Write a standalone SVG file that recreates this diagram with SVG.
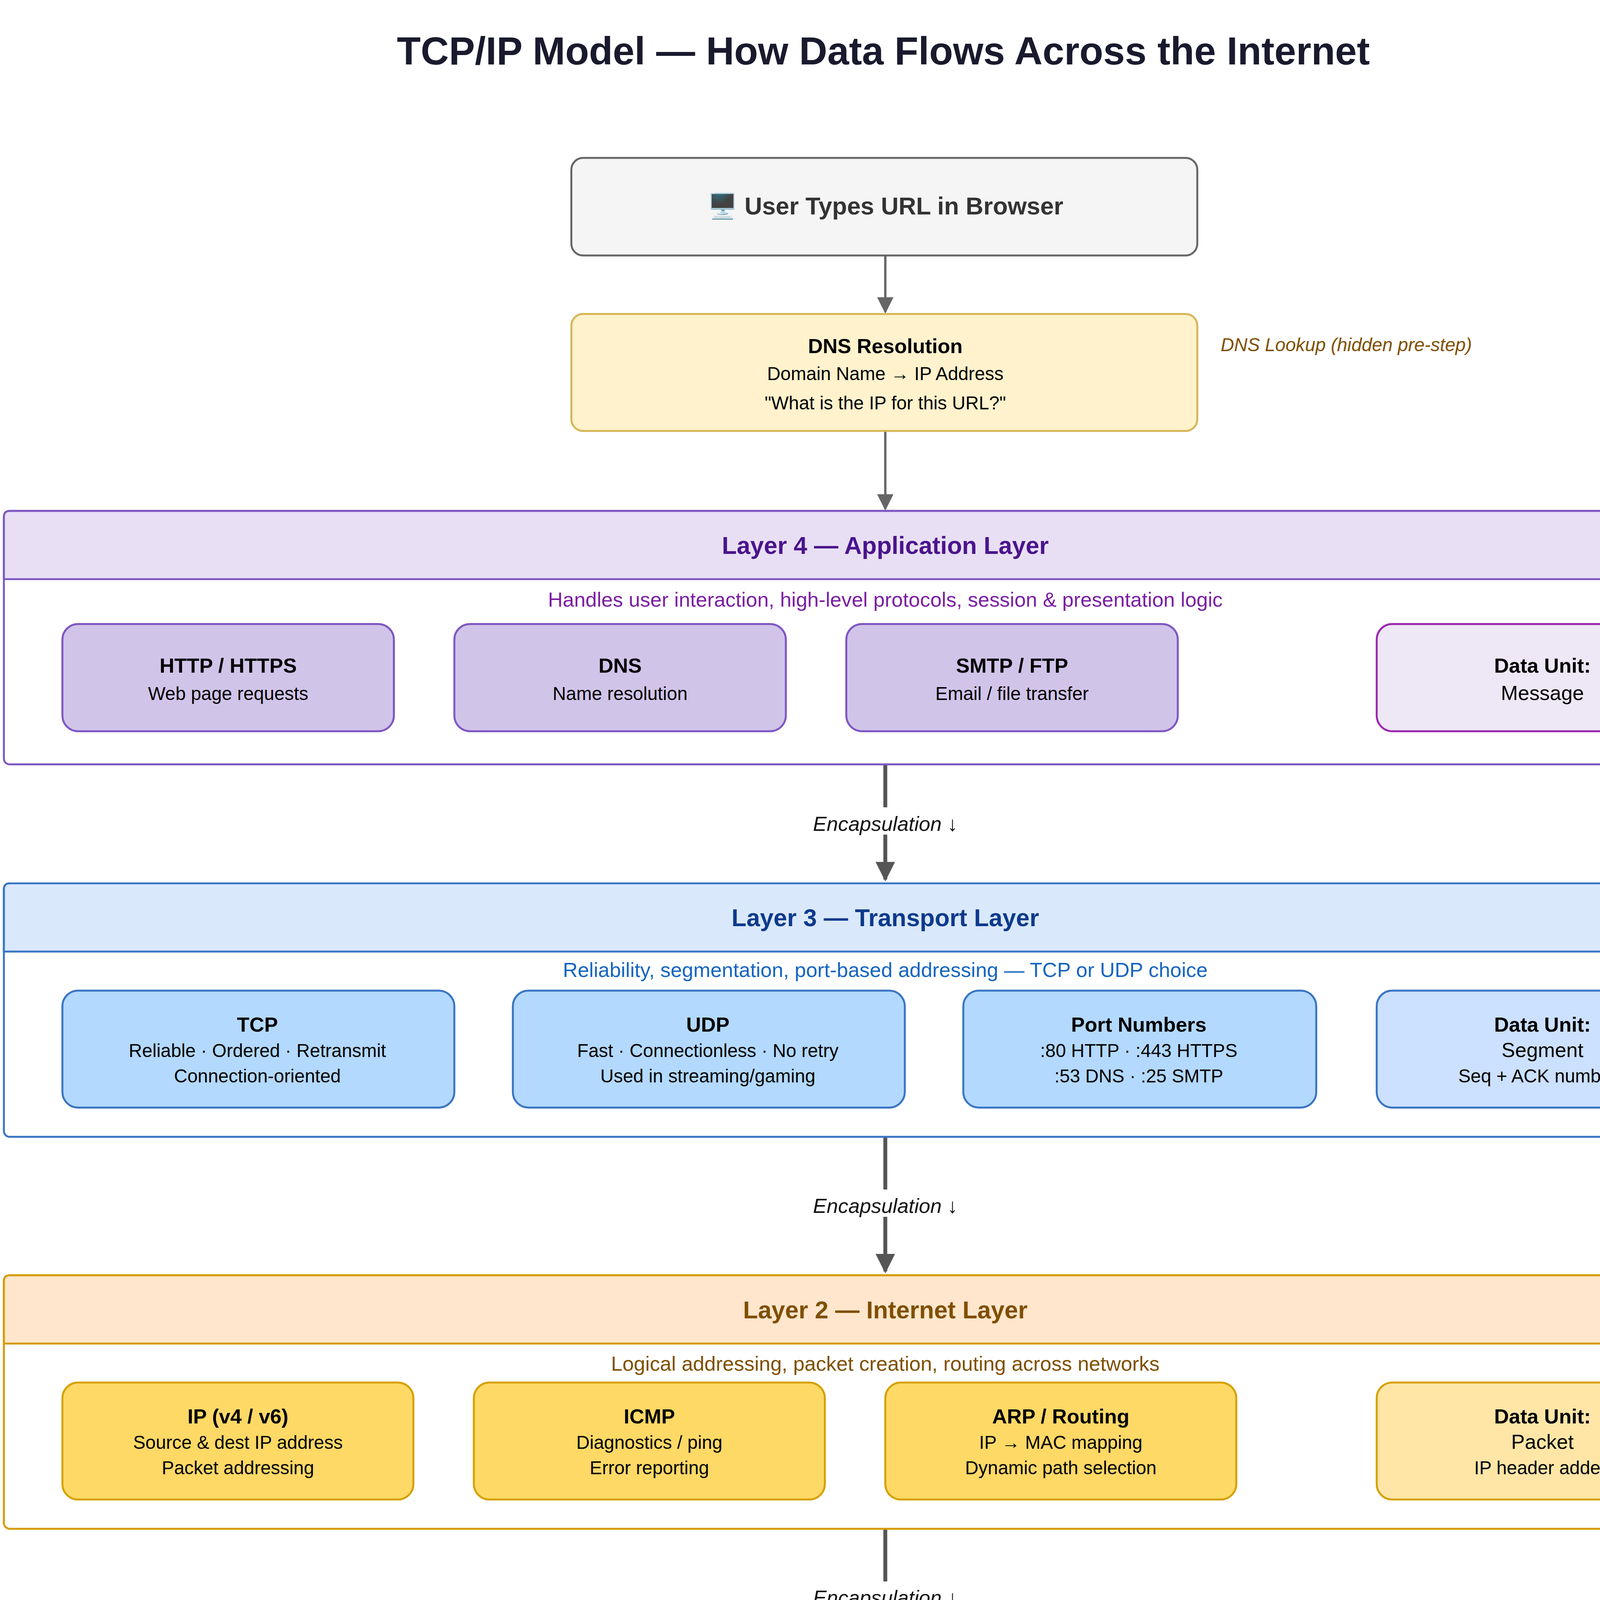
<svg xmlns="http://www.w3.org/2000/svg" width="6355" height="7800" viewBox="0 0 6355 7800">
<style>
text{font-family:"Liberation Sans",Arial,sans-serif;text-anchor:middle}
.b{font-weight:bold}
.t13{font-size:12.5px}
.t11{font-size:10.5px}
.t10{font-size:9.5px}
.it{font-style:italic}
.ln{fill:none;stroke:#555;stroke-width:2}
.lt{fill:none;stroke:#666;stroke-width:1.2}
.lb{fill:none;stroke:#3a75c4;stroke-width:1.3}
.lbl{font-size:10.5px;font-style:italic;fill:#111}
.tl{text-anchor:start;font-size:11px}
</style>
<defs>
<marker id="ah" viewBox="0 0 10 10" refX="9" refY="5" markerWidth="5" markerHeight="5" orient="auto"><path d="M0,0L10,5L0,10z" fill="#555"/></marker>
<marker id="ahs" viewBox="0 0 10 10" refX="9" refY="5" markerWidth="7" markerHeight="7" orient="auto"><path d="M0,0L10,5L0,10z" fill="#666"/></marker>
<marker id="ahb" viewBox="0 0 10 10" refX="9" refY="5" markerWidth="6" markerHeight="6" orient="auto"><path d="M0,0L10,5L0,10z" fill="#3a75c4"/></marker>
<marker id="ahd" viewBox="0 0 10 10" refX="9" refY="5" markerWidth="7" markerHeight="7" orient="auto"><path d="M0,0L10,5L0,10L3,5z" fill="#6c8ebf"/></marker>
</defs>
<rect width="6355" height="7800" fill="#fff"/>
<g transform="scale(4.992)">
<text x="453" y="33" class="b" style="font-size:20px" fill="#1a1a2e">TCP/IP Model — How Data Flows Across the Internet</text>

<g id="connectors">
<path class="lt" d="M454,131V160" marker-end="url(#ahs)"/>
<path class="lt" d="M454,221V261" marker-end="url(#ahs)"/>
<path class="ln" d="M454,392V451" marker-end="url(#ah)"/>
<path class="ln" d="M454,583V652" marker-end="url(#ah)"/>
<path class="ln" d="M454,784V853" marker-end="url(#ah)"/>
<path class="ln" d="M454,985V1049" marker-end="url(#ah)"/>
<path class="ln" d="M454,1121V1175" marker-end="url(#ah)"/>
<path class="ln" d="M454,1226V1285" marker-end="url(#ah)"/>
<path class="ln" d="M454,1397V1456" marker-end="url(#ah)"/>
<path d="M906,518H914Q920,518 920,512V469Q920,463 926,463H935" fill="none" stroke="#6c8ebf" stroke-width="1.2" stroke-dasharray="3,3" marker-end="url(#ahd)"/>
<path class="lb" d="M197,1357H227" marker-end="url(#ahb)"/>
<path class="lb" d="M403,1357H433" marker-end="url(#ahb)"/>
<path class="lb" d="M609,1357H639" marker-end="url(#ahb)"/>
<rect x="412" y="414" width="84" height="14" fill="#fff"/><text x="454" y="426" class="lbl">Encapsulation ↓</text>
<rect x="412" y="610" width="84" height="14" fill="#fff"/><text x="454" y="622" class="lbl">Encapsulation ↓</text>
<rect x="412" y="811" width="84" height="14" fill="#fff"/><text x="454" y="823" class="lbl">Encapsulation ↓</text>
<rect x="400" y="1010" width="108" height="14" fill="#fff"/><text x="454" y="1022" class="lbl">Signals transmitted ↓</text>
</g>

<g id="user"><rect x="293" y="81" width="321" height="50" rx="6" fill="#f5f5f5" stroke="#666"/><text x="454" y="110" class="b t13" fill="#333">🖥️ User Types URL in Browser</text></g>

<g id="dns"><rect x="293" y="161" width="321" height="60" rx="6" fill="#fff2cc" stroke="#d6b656"/>
<text x="454" y="181" class="b t11">DNS Resolution</text><text x="454" y="195" class="t10">Domain Name → IP Address</text><text x="454" y="210" class="t10">"What is the IP for this URL?"</text>
<text x="626" y="180" class="it t10" style="text-anchor:start" fill="#7f5000">DNS Lookup (hidden pre-step)</text></g>

<g id="layer4">
<rect x="2" y="262" width="904" height="130" rx="3" fill="#fff" stroke="#7e57c2"/>
<path d="M2,297V265Q2,262 5,262H903Q906,262 906,265V297Z" fill="#e8dff5" stroke="#7e57c2"/>
<text x="454" y="284" class="b t13" fill="#4a148c">Layer 4 — Application Layer</text>
<text x="454" y="311" class="t11" fill="#7b1fa2">Handles user interaction, high-level protocols, session &amp; presentation logic</text>
<rect x="32" y="320" width="170" height="55" rx="8" fill="#d1c4e9" stroke="#7e57c2"/><text x="117" y="345" class="b t11">HTTP / HTTPS</text><text x="117" y="359" class="t10">Web page requests</text>
<rect x="233" y="320" width="170" height="55" rx="8" fill="#d1c4e9" stroke="#7e57c2"/><text x="318" y="345" class="b t11">DNS</text><text x="318" y="359" class="t10">Name resolution</text>
<rect x="434" y="320" width="170" height="55" rx="8" fill="#d1c4e9" stroke="#7e57c2"/><text x="519" y="345" class="b t11">SMTP / FTP</text><text x="519" y="359" class="t10">Email / file transfer</text>
<rect x="706" y="320" width="170" height="55" rx="8" fill="#ede7f6" stroke="#9c27b0"/><text x="791" y="345" class="b t11">Data Unit:</text><text x="791" y="359" class="t11">Message</text>
</g>

<g id="layer3">
<rect x="2" y="453" width="904" height="130" rx="3" fill="#fff" stroke="#3a75c4"/>
<path d="M2,488V456Q2,453 5,453H903Q906,453 906,456V488Z" fill="#dae8fc" stroke="#3a75c4"/>
<text x="454" y="475" class="b t13" fill="#0d3a8c">Layer 3 — Transport Layer</text>
<text x="454" y="501" class="t11" fill="#1565c0">Reliability, segmentation, port-based addressing — TCP or UDP choice</text>
<rect x="32" y="508" width="201" height="60" rx="8" fill="#b3d9ff" stroke="#3a75c4"/><text x="132" y="529" class="b t11">TCP</text><text x="132" y="542" class="t10">Reliable · Ordered · Retransmit</text><text x="132" y="555" class="t10">Connection-oriented</text>
<rect x="263" y="508" width="201" height="60" rx="8" fill="#b3d9ff" stroke="#3a75c4"/><text x="363" y="529" class="b t11">UDP</text><text x="363" y="542" class="t10">Fast · Connectionless · No retry</text><text x="363" y="555" class="t10">Used in streaming/gaming</text>
<rect x="494" y="508" width="181" height="60" rx="8" fill="#b3d9ff" stroke="#3a75c4"/><text x="584" y="529" class="b t11">Port Numbers</text><text x="584" y="542" class="t10">:80 HTTP · :443 HTTPS</text><text x="584" y="555" class="t10">:53 DNS · :25 SMTP</text>
<rect x="706" y="508" width="170" height="60" rx="8" fill="#cce0ff" stroke="#3a75c4"/><text x="791" y="529" class="b t11">Data Unit:</text><text x="791" y="542" class="t11">Segment</text><text x="791" y="555" class="t10">Seq + ACK numbers</text>
</g>

<g id="handshake"><rect x="936" y="433" width="332" height="60" rx="5" fill="#dae8fc" stroke="#6c8ebf"/>
<text x="1102" y="459" class="t11"><tspan class="b">TCP 3-Way Handshake</tspan> (before data transfer)</text>
<text x="1102" y="473" class="t10">① Client SYN → ② Server SYN-ACK → ③ Client ACK</text></g>

<g id="layer2">
<rect x="2" y="654" width="904" height="130" rx="3" fill="#fff" stroke="#d79b00"/>
<path d="M2,689V657Q2,654 5,654H903Q906,654 906,657V689Z" fill="#ffe6cc" stroke="#d79b00"/>
<text x="454" y="676" class="b t13" fill="#7f4f00">Layer 2 — Internet Layer</text>
<text x="454" y="703" class="t11" fill="#7f5000">Logical addressing, packet creation, routing across networks</text>
<rect x="32" y="709" width="180" height="60" rx="8" fill="#ffd966" stroke="#d6a000"/><text x="122" y="730" class="b t11">IP (v4 / v6)</text><text x="122" y="743" class="t10">Source &amp; dest IP address</text><text x="122" y="756" class="t10">Packet addressing</text>
<rect x="243" y="709" width="180" height="60" rx="8" fill="#ffd966" stroke="#d6a000"/><text x="333" y="730" class="b t11">ICMP</text><text x="333" y="743" class="t10">Diagnostics / ping</text><text x="333" y="756" class="t10">Error reporting</text>
<rect x="454" y="709" width="180" height="60" rx="8" fill="#ffd966" stroke="#d6a000"/><text x="544" y="730" class="b t11">ARP / Routing</text><text x="544" y="743" class="t10">IP → MAC mapping</text><text x="544" y="756" class="t10">Dynamic path selection</text>
<rect x="706" y="709" width="170" height="60" rx="8" fill="#ffe6a6" stroke="#d6a000"/><text x="791" y="730" class="b t11">Data Unit:</text><text x="791" y="743" class="t11">Packet</text><text x="791" y="756" class="t10">IP header added</text>
</g>

<g id="layer1">
<rect x="2" y="855" width="904" height="130" rx="3" fill="#fff" stroke="#4a8a3a"/>
<path d="M2,889V858Q2,855 5,855H903Q906,855 906,858V889Z" fill="#d5e8d4" stroke="#4a8a3a"/>
<text x="454" y="877" class="b t13" fill="#1b4d1b">Layer 1 — Network Access Layer</text>
<text x="454" y="904" class="t11" fill="#2e7d32">Physical transmission, MAC addressing, framing — hardware level</text>
<rect x="32" y="910" width="170" height="55" rx="8" fill="#a5d6a0" stroke="#4a8a3a"/><text x="117" y="935" class="b t11">Ethernet</text><text x="117" y="949" class="t10">Wired · Electrical signals</text>
<rect x="233" y="910" width="170" height="55" rx="8" fill="#a5d6a0" stroke="#4a8a3a"/><text x="318" y="935" class="b t11">Wi-Fi / 802.11</text><text x="318" y="949" class="t10">Wireless · Radio waves</text>
<rect x="434" y="910" width="170" height="55" rx="8" fill="#a5d6a0" stroke="#4a8a3a"/><text x="519" y="935" class="b t11">Fiber / DSL</text><text x="519" y="949" class="t10">Light signals · Long range</text>
<rect x="706" y="910" width="170" height="55" rx="8" fill="#c8e6c9" stroke="#4a8a3a"/><text x="791" y="929" class="b t11">Data Unit:</text><text x="791" y="942" class="t11">Frame</text><text x="791" y="955" class="t10">MAC header added</text>
</g>

<g id="journey"><rect x="2" y="1051" width="904" height="70" rx="5" fill="#f5f5f5" stroke="#888" stroke-width="1.5" stroke-dasharray="5,4"/>
<text x="454" y="1075" class="b t11">Internet Journey</text><text x="454" y="1090" class="t11">Packets travel independently through Routers → Switches → ISP infrastructure → Gateways</text><text x="454" y="1105" class="t11">Dynamic path selection · May cross multiple countries · Reassembled at destination</text></g>
<text x="1107" y="1052" class="it t10" fill="#555">↑ Response travels same path in reverse (decapsulation)</text>

<g id="server"><rect x="293" y="1177" width="321" height="49" rx="6" fill="#f5f5f5" stroke="#666"/><text x="454" y="1198" class="b t13" fill="#333">🖥️ Server receives request · processes · sends</text><text x="454" y="1214" class="b t13" fill="#333">response</text></g>

<g id="decap">
<rect x="2" y="1287" width="904" height="110" rx="3" fill="#fff" stroke="#3a75c4"/>
<path d="M2,1322V1290Q2,1287 5,1287H903Q906,1287 906,1290V1322Z" fill="#dae8fc" stroke="#3a75c4"/>
<text x="454" y="1309" class="b t13" fill="#0d3a8c">Decapsulation on arrival — reverse order</text>
<rect x="22" y="1332" width="175" height="50" rx="7" fill="#d5e8d4" stroke="#5a9a4a"/><text x="109" y="1354" class="t11">① Frame received</text><text x="109" y="1368" class="t10">Network Access Layer</text>
<rect x="228" y="1332" width="175" height="50" rx="7" fill="#ffe6cc" stroke="#d79b00"/><text x="315" y="1354" class="t11">② IP verified</text><text x="315" y="1368" class="t10">Internet Layer</text>
<rect x="434" y="1332" width="175" height="50" rx="7" fill="#dae8fc" stroke="#3a75c4"/><text x="521" y="1354" class="t11">③ Segments reordered</text><text x="521" y="1368" class="t10">Transport Layer</text>
<rect x="640" y="1332" width="175" height="50" rx="7" fill="#e8dff5" stroke="#8e6bbf"/><text x="727" y="1354" class="t11">④ Data interpreted</text><text x="727" y="1368" class="t10">Application Layer</text>
</g>

<g id="final"><rect x="293" y="1458" width="321" height="49" rx="6" fill="#d5e8d4" stroke="#82b366"/><text x="454" y="1487" class="b t13" fill="#1b4d1b">✅ Webpage renders in Rahul's browser</text></g>

<text x="845" y="1558" class="b" style="font-size:14px" fill="#bbb">Biswadeb's Lab</text>

<g id="osi">
<text x="1102" y="611" class="b t11" fill="#333">OSI vs TCP/IP</text>
<rect x="937" y="629" width="331" height="140" rx="10" fill="#f7f7f7" stroke="#999"/>
<rect x="939" y="636" width="87" height="22" fill="#e8dff5"/><rect x="1026" y="636" width="155" height="22" fill="#dae8fc"/>
<g fill="none" stroke="#ccc" stroke-width="1">
<rect x="939" y="636" width="242" height="111"/>
<path d="M1026,636V747M939,658H1181M939,680H1181M939,702H1181M939,725H1181"/>
</g>
<text x="943" y="651" class="tl b">TCP/IP</text><text x="1031" y="651" class="tl b">OSI Equivalent</text>
<text x="943" y="673" class="tl">Application</text><text x="1031" y="673" class="tl">App + Presentation + Session</text>
<text x="943" y="695" class="tl">Transport</text><text x="1031" y="695" class="tl">Transport</text>
<text x="943" y="718" class="tl">Internet</text><text x="1031" y="718" class="tl">Network</text>
<text x="943" y="740" class="tl">Network Access</text><text x="1031" y="740" class="tl">Data Link + Physical</text>
</g>
</g>
</svg>
